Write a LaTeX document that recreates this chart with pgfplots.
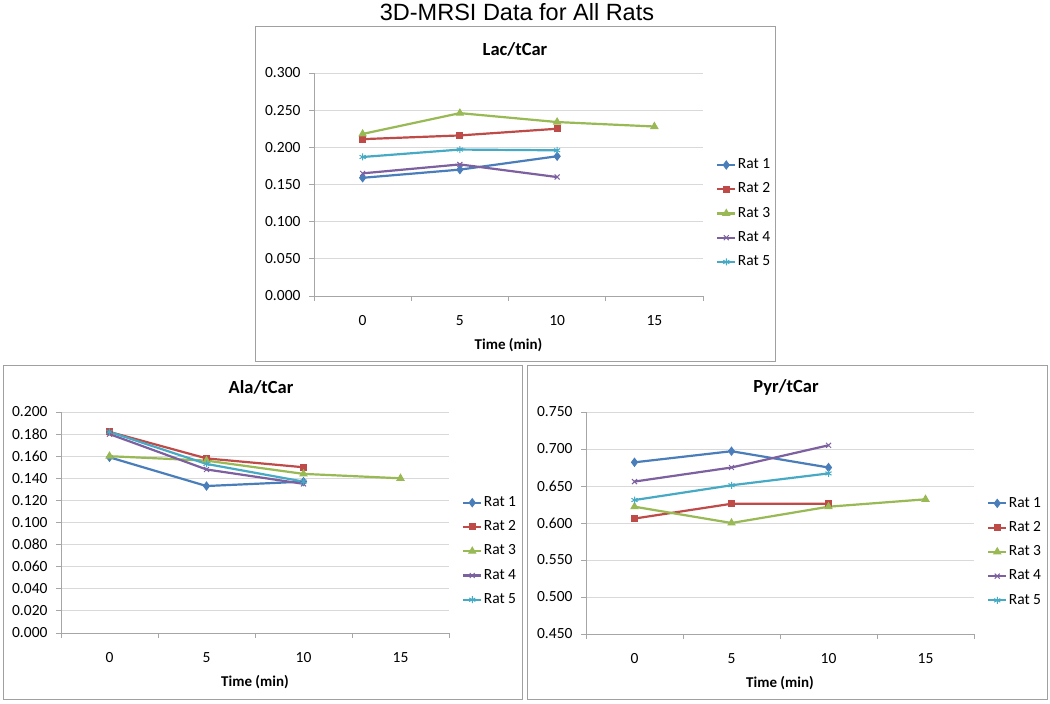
\documentclass[border=0pt]{standalone}
\usepackage{fontspec}
\setmainfont{Carlito}
\newfontfamily\titlefont{Liberation Sans}
\usepackage{pgfplots}
\pgfplotsset{compat=1.18}
\definecolor{c1}{HTML}{4A7EBB}
\definecolor{c2}{HTML}{BE4B48}
\definecolor{c3}{HTML}{98B954}
\definecolor{c4}{HTML}{7D60A0}
\definecolor{c5}{HTML}{46AAC5}
\definecolor{gridc}{HTML}{D9D9D9}
\definecolor{axc}{HTML}{A6A6A6}
\definecolor{boxc}{HTML}{A0A0A0}
\pgfplotsset{
 excel/.style={
   scale only axis, anchor=south west, clip=false,
   xmin=-2.5, xmax=17.5, xtick={0,5,10,15},
   minor xtick={-2.5,2.5,7.5,12.5,17.5},
   major x tick style={draw=none},
   minor x tick style={axc, line width=0.8pt},
   y tick style={axc, line width=0.8pt},
   tick align=outside, major tick length=5pt, minor tick length=5pt,
   axis x line*=bottom, axis y line*=left,
   axis line style={axc, line width=0.8pt, -},
   ymajorgrids, grid style={gridc, line width=0.8pt},
   tick label style={font=\fontsize{15.5}{18}\selectfont, text=black},
   /pgf/number format/assume math mode=true,
   yticklabel style={xshift=-5pt, /pgf/number format/fixed, /pgf/number format/fixed zerofill, /pgf/number format/precision=3},
   xticklabel style={yshift=-11pt},
   xlabel={Time (min)},
   label style={font=\fontsize{15}{18}\selectfont\bfseries},
   xlabel style={at={(axis description cs:0.5,0)}, anchor=center, yshift=-49pt},
   legend style={at={(axis description cs:1.0334,0.37)}, anchor=west, draw=none, fill=none, inner sep=0pt, row sep=9.75pt,
     font=\fontsize{15.5}{18}\selectfont, nodes={inner sep=0pt, text height=11pt, text depth=3.5pt, inner xsep=1.5pt}},
   legend cell align=left,
   legend image code/.code={\draw[mark repeat=2,mark phase=2,##1] plot coordinates {(0pt,0pt) (9pt,0pt) (18pt,0pt)};},
 },
 r1/.style={c1, line width=2.2pt, mark=diamond*, mark size=4pt, mark options={solid, line width=1pt}},
 r2/.style={c2, line width=2.2pt, mark=square*, mark size=3pt, mark options={solid, line width=1pt}},
 r3/.style={c3, line width=2.2pt, mark=triangle*, mark size=4pt, mark options={solid, line width=1pt}},
 r4/.style={c4, line width=2.2pt, mark=x, mark size=3.5pt, mark options={solid, line width=1pt}},
 r5/.style={c5, line width=2.2pt, mark=asterisk, mark size=3.5pt, mark options={solid, line width=1pt}},
}
\begin{document}
\begin{tikzpicture}
\useasboundingbox (0pt,0pt) rectangle (1050pt,704pt);
\fill[white] (0pt,0pt) rectangle (1050pt,704pt);
\draw[boxc, line width=1pt] (255pt,342pt) rectangle (775pt,677pt);
\draw[boxc, line width=1pt] (3pt,4pt) rectangle (522pt,338pt);
\draw[boxc, line width=1pt] (527pt,4pt) rectangle (1047pt,338pt);

% Lac/tCar
\begin{axis}[excel, at={(314pt,408pt)}, width=389pt, height=223pt,
  ymin=0, ymax=0.3, ytick={0,0.05,0.1,0.15,0.2,0.25,0.3}]
\addplot[r1] coordinates {(0,0.159) (5,0.170) (10,0.188)};
\addplot[r2] coordinates {(0,0.211) (5,0.216) (10,0.225)};
\addplot[r3] coordinates {(0,0.218) (5,0.246) (10,0.234) (15,0.228)};
\addplot[r4] coordinates {(0,0.165) (5,0.177) (10,0.160)};
\addplot[r5] coordinates {(0,0.187) (5,0.197) (10,0.196)};
\legend{Rat 1,Rat 2,Rat 3,Rat 4,Rat 5}
\end{axis}

% Ala/tCar
\begin{axis}[excel, at={(61pt,71pt)}, width=388pt, height=221pt,
  ymin=0, ymax=0.2, ytick={0,0.02,0.04,0.06,0.08,0.1,0.12,0.14,0.16,0.18,0.2}]
\addplot[r1] coordinates {(0,0.159) (5,0.133) (10,0.137)};
\addplot[r2] coordinates {(0,0.182) (5,0.158) (10,0.150)};
\addplot[r3] coordinates {(0,0.160) (5,0.156) (10,0.144) (15,0.140)};
\addplot[r4] coordinates {(0,0.180) (5,0.148) (10,0.135)};
\addplot[r5] coordinates {(0,0.182) (5,0.153) (10,0.137)};
\legend{Rat 1,Rat 2,Rat 3,Rat 4,Rat 5}
\end{axis}

% Pyr/tCar
\begin{axis}[excel, at={(586pt,70pt)}, width=388pt, height=222pt,
  ymin=0.45, ymax=0.75, ytick={0.45,0.5,0.55,0.6,0.65,0.7,0.75}]
\addplot[r1] coordinates {(0,0.682) (5,0.697) (10,0.675)};
\addplot[r2] coordinates {(0,0.606) (5,0.626) (10,0.626)};
\addplot[r3] coordinates {(0,0.622) (5,0.600) (10,0.622) (15,0.632)};
\addplot[r4] coordinates {(0,0.656) (5,0.675) (10,0.705)};
\addplot[r5] coordinates {(0,0.631) (5,0.651) (10,0.667)};
\legend{Rat 1,Rat 2,Rat 3,Rat 4,Rat 5}
\end{axis}

\node[font=\titlefont\fontsize{23.5}{26}\selectfont] at (517pt,692pt) {3D-MRSI Data for All Rats};
\node[font=\fontsize{18.5}{22}\selectfont\bfseries] at (515pt,655pt) {Lac/tCar};
\node[font=\fontsize{18.5}{22}\selectfont\bfseries] at (261pt,317pt) {Ala/tCar};
\node[font=\fontsize{18.5}{22}\selectfont\bfseries] at (786pt,317pt) {Pyr/tCar};
\end{tikzpicture}
\end{document}
